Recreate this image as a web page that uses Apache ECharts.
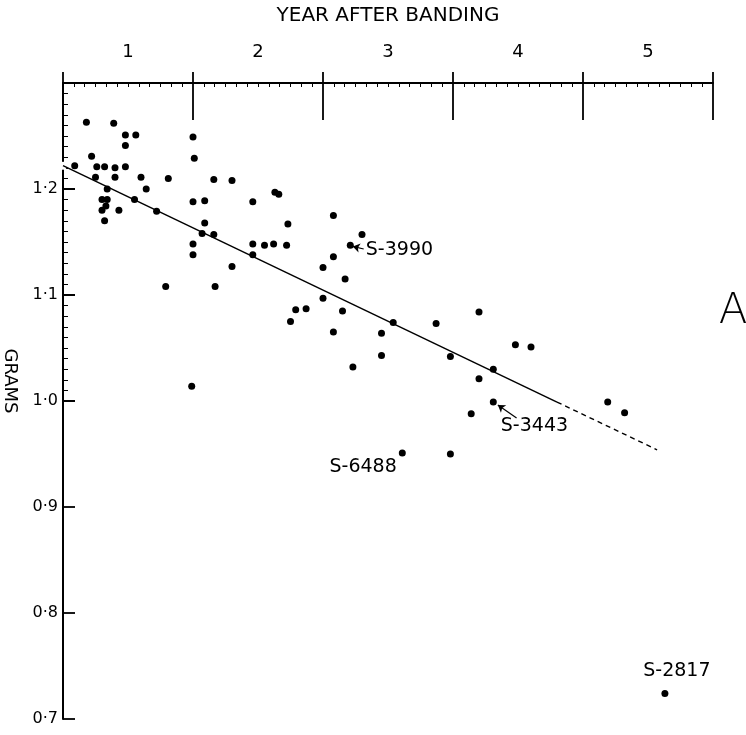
<!DOCTYPE html>
<html><head><meta charset="utf-8">
<script src="https://cdn.jsdelivr.net/npm/echarts@6/dist/echarts.min.js"></script>
<style>html,body{margin:0;padding:0;background:#fff}#c{width:746px;height:735px}</style>
</head><body><div id="c"></div>
<script>
// ---- data ----
const yearLabels = ['1', '2', '3', '4', '5'];
const gramTickLabels = ['0·7', '0·8', '0·9', '1·0', '1·1', '1·2'];

const yearsAfterBanding = [
  0.18, 0.39, 0.48, 0.56, 0.48, 0.22, 0.26, 0.32, 0.40, 0.48,
  0.09, 0.25, 0.40, 0.60, 0.81, 1.16, 1.30, 0.34, 0.64, 0.30,
  0.34, 0.55, 1.00, 1.09, 1.46, 0.33, 0.30, 0.43, 0.72, 0.32,
  1.09, 1.07, 1.16, 1.00, 1.46, 1.55, 1.00, 1.46, 1.30, 0.79,
  1.17, 1.00, 1.01, 0.99, 1.63, 1.66, 1.73, 2.08, 2.30, 1.62,
  1.72, 2.08, 2.00, 2.17, 2.00, 1.79, 1.87, 2.15, 1.75, 2.54,
  2.87, 2.08, 2.45, 2.45, 2.23, 2.98, 3.20, 3.48, 3.60, 3.31,
  3.20, 3.14, 2.98, 4.19, 4.32
];
const grams = [
  1.263, 1.262, 1.251, 1.251, 1.241, 1.231, 1.221, 1.221, 1.220, 1.221,
  1.222, 1.211, 1.211, 1.211, 1.210, 1.209, 1.208, 1.200, 1.200, 1.190,
  1.190, 1.190, 1.188, 1.189, 1.188, 1.184, 1.180, 1.180, 1.179, 1.170,
  1.168, 1.158, 1.157, 1.148, 1.148, 1.147, 1.138, 1.138, 1.127, 1.108,
  1.108, 1.249, 1.229, 1.014, 1.197, 1.195, 1.167, 1.175, 1.157, 1.148,
  1.147, 1.136, 1.126, 1.115, 1.097, 1.086, 1.087, 1.085, 1.075, 1.074,
  1.073, 1.065, 1.064, 1.043, 1.032, 1.042, 1.084, 1.053, 1.051, 1.030,
  1.021, 0.988, 0.950, 0.999, 0.989
];

const annotatedIds = ['S-3990', 'S-3443', 'S-6488', 'S-2817'];
const annotatedYears = [2.21, 3.31, 2.61, 4.63];
const annotatedGrams = [1.147, 0.999, 0.951, 0.724];

const regressionYears = [0, 3.80, 4.57];
const regressionGrams = [1.222, 0.999, 0.954];

// ---- layout / style (not data) ----
const FONT = 'DejaVu Sans';
const LABEL_LAYOUT = [
  { position: 'right', offset: [12, 5] },
  { position: 'right', offset: [4, 24] },
  { position: 'left', offset: [-2, 14] },
  { position: 'top', offset: [12, -9] }
];
const ARROWS = [
  { from: [2.313, 1.1434], to: [2.229, 1.1458] },
  { from: [3.489, 0.984], to: [3.345, 0.9962] }
];

const pts = yearsAfterBanding.map((x, i) => [x, grams[i]]);
const annotated = annotatedIds.map((id, i) => ({
  name: id,
  value: [annotatedYears[i], annotatedGrams[i]],
  label: Object.assign({ show: true, distance: 0, formatter: id }, LABEL_LAYOUT[i])
}));

const chart = echarts.init(document.getElementById('c'), null, { renderer: 'canvas' });
chart.setOption({
  animation: false,
  backgroundColor: '#fff',
  textStyle: { fontFamily: FONT, color: '#000' },
  grid: [
    { left: 63, right: 33, top: 83, bottom: 16, containLabel: false, outerBoundsMode: 'none' },
    { left: 63, right: 33, top: 83, height: 318, containLabel: false, outerBoundsMode: 'none' }
  ],
  xAxis: [
    {
      type: 'value', gridIndex: 0, position: 'top', min: 0, max: 5, interval: 1,
      axisLine: { show: true, onZero: false, lineStyle: { color: '#000', width: 2 } },
      axisTick: { show: true, inside: true, length: 37, lineStyle: { color: '#000', width: 1.8 } },
      minorTick: { show: true, splitNumber: 12, length: 4, lineStyle: { color: '#000', width: 1 } },
      axisLabel: { show: false }, splitLine: { show: false }, minorSplitLine: { show: false }
    },
    {
      type: 'category', gridIndex: 0, position: 'top', data: yearLabels, boundaryGap: true,
      axisLine: { show: false },
      axisTick: { show: true, inside: false, length: 11, interval: 0, lineStyle: { color: '#000', width: 1.8 } },
      axisLabel: { color: '#000', fontSize: 18, margin: 22, interval: 0, fontFamily: FONT },
      splitLine: { show: false },
      name: 'YEAR AFTER BANDING', nameLocation: 'middle', nameGap: 57,
      nameTextStyle: { color: '#000', fontSize: 20, fontFamily: FONT }
    },
    { type: 'value', gridIndex: 1, min: 0, max: 5, show: false }
  ],
  yAxis: [
    {
      type: 'value', gridIndex: 0, min: 0.7, max: 1.3, interval: 0.1,
      axisLine: { show: true, onZero: false, lineStyle: { color: '#000', width: 2 } },
      axisTick: { show: true, inside: true, length: 12, lineStyle: { color: '#000', width: 1.8 } },
      axisLabel: {
        color: '#000', fontSize: 16, margin: 5, fontFamily: FONT,
        formatter: v => { const i = Math.round((v - 0.7) * 10); return gramTickLabels[i] || ''; }
      },
      splitLine: { show: false }
    },
    {
      type: 'value', gridIndex: 1, min: 1.0, max: 1.3, interval: 0.1,
      axisLine: { show: false },
      axisTick: { show: true, inside: true, length: 12, lineStyle: { color: '#000', width: 1.8 } },
      minorTick: { show: true, splitNumber: 10, length: 5, lineStyle: { color: '#000', width: 1 } },
      axisLabel: { show: false }, splitLine: { show: false }, minorSplitLine: { show: false }
    }
  ],
  series: [
    {
      type: 'line', xAxisIndex: 0, yAxisIndex: 0, silent: true, showSymbol: false, clip: false,
      data: [[regressionYears[0], regressionGrams[0]], [regressionYears[1], regressionGrams[1]]],
      lineStyle: { color: '#000', width: 1.5, type: 'solid', opacity: 1 }
    },
    {
      type: 'line', xAxisIndex: 0, yAxisIndex: 0, silent: true, showSymbol: false, clip: false,
      data: [[regressionYears[1], regressionGrams[1]], [regressionYears[2], regressionGrams[2]]],
      lineStyle: { color: '#000', width: 1.4, type: [5, 4], opacity: 1 }
    },
    {
      type: 'scatter', xAxisIndex: 0, yAxisIndex: 0, silent: true, clip: false,
      symbol: 'emptyCircle', symbolSize: 6,
      data: [[regressionYears[0], regressionGrams[0]]],
      itemStyle: { color: '#fff', borderColor: '#000', borderWidth: 1.4, opacity: 1 }
    },
    {
      type: 'scatter', xAxisIndex: 0, yAxisIndex: 0, silent: true,
      symbolSize: 7, data: pts, itemStyle: { color: '#000', opacity: 1 }
    },
    {
      type: 'scatter', xAxisIndex: 0, yAxisIndex: 0, silent: true,
      symbolSize: 7, data: annotated, itemStyle: { color: '#000', opacity: 1 },
      label: { color: '#000', fontSize: 19, fontFamily: FONT, opacity: 1, textBorderWidth: 0 },
      markLine: {
        silent: true, symbol: ['none', 'arrow'], symbolSize: 7, animation: false,
        label: { show: false },
        lineStyle: { color: '#000', width: 1.2, type: 'solid', opacity: 1 },
        itemStyle: { color: '#000' },
        emphasis: { disabled: true },
        data: ARROWS.map(a => [{ coord: a.from }, { coord: a.to }])
      }
    }
  ],
  graphic: [
    {
      type: 'text', x: 10, y: 381, rotation: -Math.PI / 2,
      style: { text: 'GRAMS', fontSize: 18, fontFamily: FONT, fill: '#000', align: 'center', verticalAlign: 'middle' }
    },
    {
      type: 'text', x: 733, y: 312,
      style: { text: 'A', fontSize: 42, fontFamily: FONT, fontWeight: 300, fill: '#000', align: 'center', verticalAlign: 'middle' }
    }
  ]
});
</script>
</body></html>
